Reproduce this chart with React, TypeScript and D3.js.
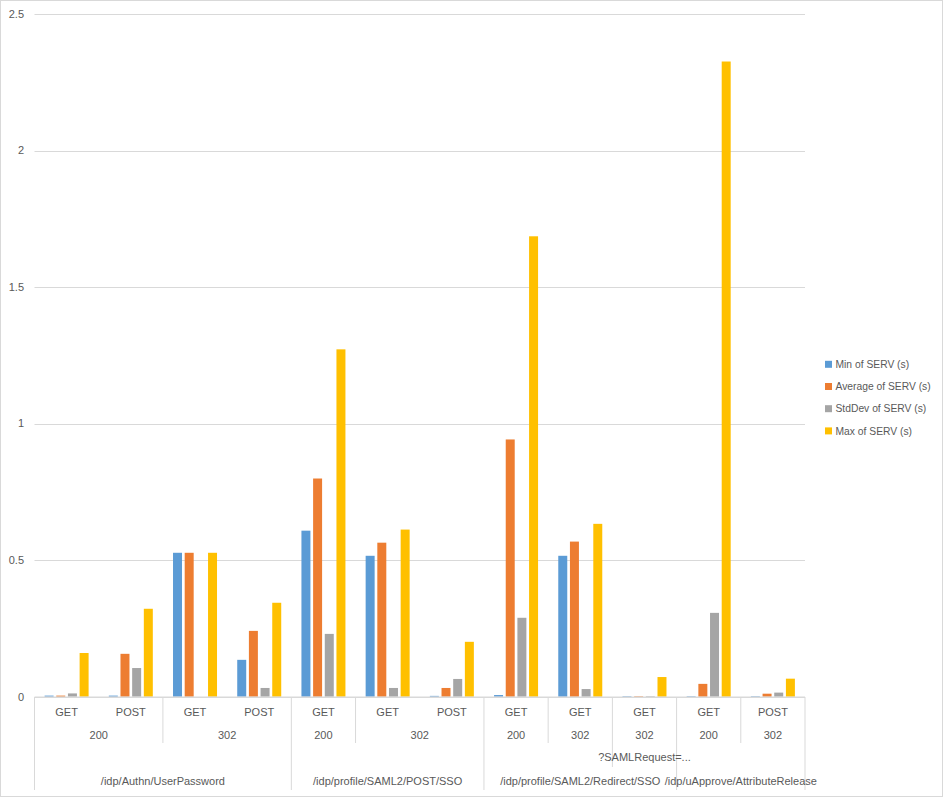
import * as d3 from "d3";

const methods = ["GET", "POST", "GET", "POST", "GET", "GET", "POST", "GET", "GET", "GET", "GET", "POST"];
const statuses = ["200", "200", "302", "302", "200", "302", "302", "200", "302", "302", "200", "302"];
const queries = ["", "", "", "", "", "", "", "", "", "?SAMLRequest=...", "", ""];
const paths = [
  "/idp/Authn/UserPassword",
  "/idp/Authn/UserPassword",
  "/idp/Authn/UserPassword",
  "/idp/Authn/UserPassword",
  "/idp/profile/SAML2/POST/SSO",
  "/idp/profile/SAML2/POST/SSO",
  "/idp/profile/SAML2/POST/SSO",
  "/idp/profile/SAML2/Redirect/SSO",
  "/idp/profile/SAML2/Redirect/SSO",
  "/idp/profile/SAML2/Redirect/SSO",
  "/idp/uApprove/AttributeRelease",
  "/idp/uApprove/AttributeRelease",
];

const seriesNames = ["Min of SERV (s)", "Average of SERV (s)", "StdDev of SERV (s)", "Max of SERV (s)"];
const seriesColors = ["#5B9BD5", "#ED7D31", "#A5A5A5", "#FFC000"];

const minServ = [0.004, 0.004, 0.527, 0.135, 0.608, 0.516, 0.003, 0.006, 0.516, 0.002, 0.002, 0.002];
const avgServ = [0.004, 0.157, 0.527, 0.241, 0.799, 0.564, 0.032, 0.942, 0.568, 0.002, 0.047, 0.011];
const stdServ = [0.012, 0.105, 0, 0.032, 0.23, 0.032, 0.065, 0.289, 0.028, 0.002, 0.307, 0.015];
const maxServ = [0.16, 0.322, 0.527, 0.344, 1.272, 0.612, 0.201, 1.686, 0.633, 0.072, 2.326, 0.066];

const yTicks = [0, 0.5, 1, 1.5, 2, 2.5];

const W = 943;
const H = 797;
const FONT = "'Liberation Sans', Arial, sans-serif";
const TEXT = "#595959";
const GRID = "#d9d9d9";

// group consecutive categories that share the same key
function runs(keys: string[]) {
  const out: { start: number; end: number; key: string }[] = [];
  keys.forEach((k, i) => {
    const last = out[out.length - 1];
    if (last && last.key === k) last.end = i;
    else out.push({ start: i, end: i, key: k });
  });
  return out;
}

export default function App() {
  const cats = methods.map((_, i) => i);
  const series = [minServ, avgServ, stdServ, maxServ];

  const x = d3.scaleBand<number>().domain(cats).range([34.5, 805]).padding(0);
  const inner = d3
    .scaleBand<number>()
    .domain([0, 1, 2, 3])
    .range([-22, 22])
    .paddingInner(0.23)
    .paddingOuter(0);
  const y = d3.scaleLinear().domain([0, 2.5]).range([696.7, 14]);

  const axisY = y(0);
  const rowY = [712, 735, 757, 781];
  const rowBottom = [720, 743, 767, 790];

  const statusKeys = cats.map((i) => paths[i] + "|" + queries[i] + "|" + statuses[i]);
  const queryKeys = cats.map((i) => paths[i] + "|" + queries[i]);

  const statusRuns = runs(statusKeys);
  const queryRuns = runs(queryKeys);
  const pathRuns = runs(paths);

  // boundary lines between categories, as deep as the highest level that changes
  const boundaries: { xp: number; bottom: number }[] = [];
  for (let i = 0; i <= cats.length; i++) {
    const xp = i < cats.length ? x(i)! : x(cats.length - 1)! + x.bandwidth();
    let bottom = 0;
    if (i === 0 || i === cats.length || paths[i] !== paths[i - 1]) bottom = rowBottom[3];
    else if (queries[i] !== queries[i - 1]) bottom = rowBottom[2];
    else if (statuses[i] !== statuses[i - 1]) bottom = rowBottom[1];
    if (bottom) boundaries.push({ xp, bottom });
  }

  const center = (r: { start: number; end: number }) =>
    (x(r.start)! + x(r.end)! + x.bandwidth()) / 2;

  return (
    <svg
      width={W}
      height={H}
      style={{ position: "absolute", left: 0, top: 0, background: "#fff" }}
      fontFamily={FONT}
    >
      <rect x={0.5} y={0.5} width={W - 1} height={H - 1} fill="#fff" stroke={GRID} />

      {/* gridlines and y labels */}
      {yTicks.map((t) => (
        <g key={t}>
          <line x1={34.5} x2={805} y1={Math.round(y(t)) + 0.5} y2={Math.round(y(t)) + 0.5} stroke={GRID} />
          <text x={24} y={y(t)} dy="0.35em" textAnchor="end" fontSize={11} fill={TEXT}>
            {String(t)}
          </text>
        </g>
      ))}

      {/* bars */}
      {series.map((vals, s) =>
        vals.map((v, i) => (
          <rect
            key={`${s}-${i}`}
            x={x(i)! + x.bandwidth() / 2 + inner(s)!}
            y={y(v)}
            width={inner.bandwidth()}
            height={axisY - y(v)}
            fill={seriesColors[s]}
          />
        ))
      )}

      {/* category axis */}
      <line x1={34.5} x2={805} y1={697} y2={697} stroke={GRID} />
      {boundaries.map((b, i) => (
        <line key={i} x1={b.xp} x2={b.xp} y1={697} y2={b.bottom} stroke={GRID} />
      ))}
      {cats.map((i) => (
        <text key={i} x={x(i)! + x.bandwidth() / 2} y={rowY[0]} dy="0.35em" textAnchor="middle" fontSize={11} fill={TEXT}>
          {methods[i]}
        </text>
      ))}
      {statusRuns.map((r, i) => (
        <text key={i} x={center(r)} y={rowY[1]} dy="0.35em" textAnchor="middle" fontSize={11} fill={TEXT}>
          {statuses[r.start]}
        </text>
      ))}
      {queryRuns.map((r, i) => (
        <text key={i} x={center(r)} y={rowY[2]} dy="0.35em" textAnchor="middle" fontSize={11} fill={TEXT}>
          {queries[r.start]}
        </text>
      ))}
      {pathRuns.map((r, i) => (
        <text key={i} x={center(r)} y={rowY[3]} dy="0.35em" textAnchor="middle" fontSize={11} fill={TEXT}>
          {paths[r.start]}
        </text>
      ))}

      {/* legend */}
      {seriesNames.map((n, i) => (
        <g key={n} transform={`translate(825, ${364.3 + i * 22.2})`}>
          <rect x={0} y={-3.5} width={7} height={7} fill={seriesColors[i]} />
          <text x={10.5} y={0} dy="0.35em" fontSize={10.3} fill={TEXT}>
            {n}
          </text>
        </g>
      ))}
    </svg>
  );
}
